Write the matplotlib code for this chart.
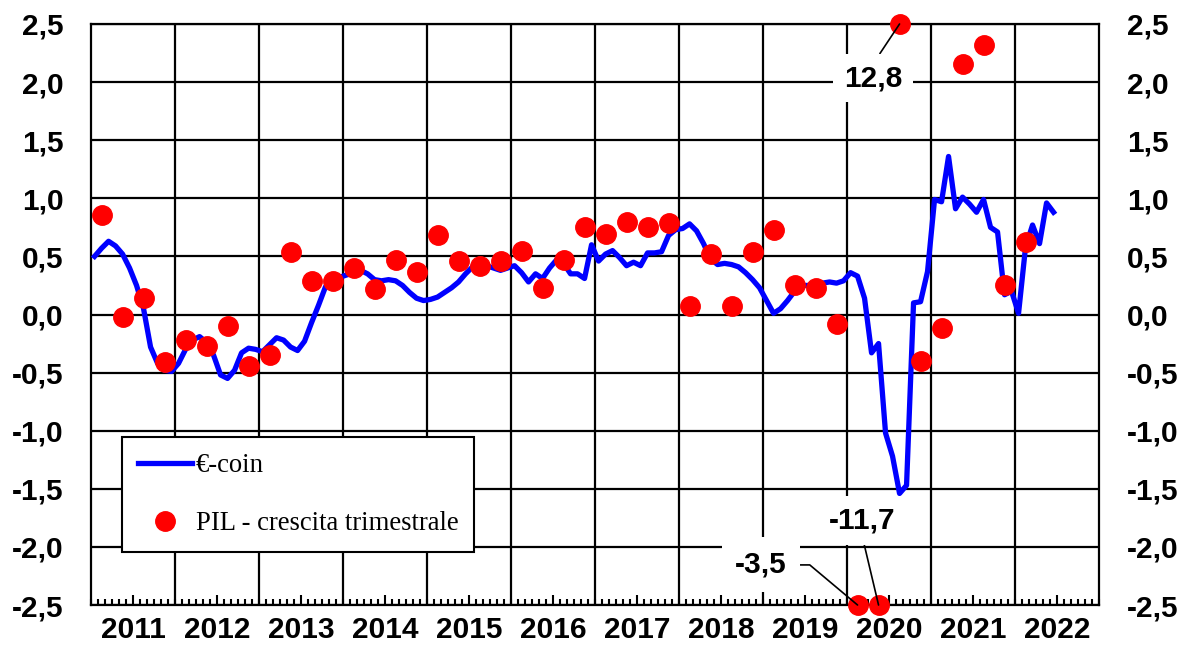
import numpy as np
import matplotlib.pyplot as plt
from matplotlib.ticker import FixedLocator, FuncFormatter, MultipleLocator

plt.rcParams['font.family'] = 'Liberation Sans'
plt.rcParams['font.weight'] = 'bold'

# €-coin, monthly, Jan 2011 - Jun 2022
ecoin = [0.50, 0.57, 0.63, 0.59, 0.52, 0.40, 0.25, 0.05, -0.28, -0.42, -0.48, -0.49,
         -0.42, -0.30, -0.22, -0.19, -0.24, -0.35, -0.52, -0.55, -0.48, -0.33, -0.29, -0.30,
         -0.32, -0.26, -0.20, -0.22, -0.28, -0.31, -0.23, -0.07, 0.08, 0.24, 0.29, 0.32,
         0.34, 0.36, 0.38, 0.35, 0.30, 0.29, 0.30, 0.29, 0.25, 0.19, 0.14, 0.12,
         0.13, 0.15, 0.19, 0.23, 0.28, 0.35, 0.41, 0.43, 0.42, 0.40, 0.38, 0.40,
         0.42, 0.36, 0.28, 0.35, 0.31, 0.40, 0.47, 0.44, 0.35, 0.35, 0.31, 0.60,
         0.46, 0.52, 0.55, 0.49, 0.42, 0.45, 0.42, 0.53, 0.53, 0.54, 0.68, 0.73,
         0.74, 0.78, 0.72, 0.61, 0.48, 0.43, 0.44, 0.43, 0.41, 0.36, 0.30, 0.23,
         0.12, 0.01, 0.05, 0.12, 0.20, 0.25, 0.25, 0.25, 0.27, 0.28, 0.27, 0.29,
         0.36, 0.33, 0.14, -0.33, -0.25, -1.02, -1.22, -1.54, -1.47, 0.10, 0.11, 0.37,
         0.99, 0.97, 1.36, 0.91, 1.01, 0.95, 0.88, 0.99, 0.75, 0.71, 0.17, 0.20,
         0.01, 0.58, 0.77, 0.61, 0.96, 0.88]

# PIL - crescita trimestrale, Q1 2011 - Q1 2022
pil = [0.86, -0.02, 0.14, -0.41,
       -0.22, -0.27, -0.10, -0.44,
       -0.35, 0.54, 0.29, 0.29,
       0.40, 0.22, 0.47, 0.37,
       0.68, 0.46, 0.42, 0.46,
       0.55, 0.23, 0.47, 0.75,
       0.69, 0.80, 0.75, 0.79,
       0.07, 0.52, 0.07, 0.54,
       0.73, 0.25, 0.23, -0.08,
       -3.5, -11.7, 12.8, -0.40,
       -0.12, 2.16, 2.32, 0.25,
       0.62]

years = list(range(2011, 2023))

x_m = np.arange(len(ecoin)) + 0.5
x_q = np.arange(len(pil)) * 3 + 1.5
pil_plot = np.clip(pil, -2.5, 2.5)

fig = plt.figure(figsize=(11.95, 6.45), dpi=100)
ax = fig.add_axes([0.0762, 0.062, 0.8435, 0.9008])

ax.plot(x_m, ecoin, color='#0000ff', lw=3.8, zorder=3, label='€-coin')
ax.plot(x_q, pil_plot, 'o', color='#ff0000', ms=14, zorder=4, clip_on=False,
        label='PIL - crescita trimestrale')

ax.set_xlim(0, 12 * len(years))
ax.set_ylim(-2.5, 2.5)

# year grid
for i in range(1, len(years)):
    ax.axvline(12 * i, color='k', lw=1.6, zorder=1)
ax.yaxis.set_major_locator(MultipleLocator(0.5))
ax.grid(axis='y', color='k', lw=1.6, zorder=1)
ax.set_axisbelow(True)
for s in ax.spines.values():
    s.set_linewidth(1.6)

ax.yaxis.set_major_formatter(FuncFormatter(lambda v, p: f"{v:.1f}".replace('.', ',')))
ax.tick_params(axis='y', length=0, pad=20, labelsize=21.5, labelright=True)

ax.xaxis.set_major_locator(FixedLocator([12 * i + 6 for i in range(len(years))]))
ax.set_xticklabels([str(y) for y in years])
ax.xaxis.set_minor_locator(FixedLocator(np.arange(0, 12 * len(years) + 1)))
ax.tick_params(axis='x', which='major', direction='in', length=7, width=1.5,
               pad=8, labelsize=21.5)
ax.tick_params(axis='x', which='minor', direction='in', length=4, width=1.5)

box = dict(boxstyle='square,pad=0.35', fc='white', ec='none')
ax.annotate('12,8', xy=(x_q[38], pil_plot[38]), xytext=(111.7, 2.035),
            ha='center', va='center', fontsize=21.5, fontweight='bold', bbox=box,
            arrowprops=dict(arrowstyle='-', color='k', lw=1.2, shrinkA=0, shrinkB=0,
                            relpos=(0.5, 1)),
            zorder=5, annotation_clip=False)
ax.annotate('-11,7', xy=(x_q[37], pil_plot[37]), xytext=(110.1, -1.77),
            ha='center', va='center', fontsize=21.5, fontweight='bold', bbox=box,
            arrowprops=dict(arrowstyle='-', color='k', lw=1.2, shrinkA=0, shrinkB=0,
                            relpos=(0.5, 0)),
            zorder=5, annotation_clip=False)
ax.annotate('-3,5', xy=(x_q[36], pil_plot[36]), xytext=(95.7, -2.155),
            ha='center', va='center', fontsize=21.5, fontweight='bold',
            bbox=dict(boxstyle='square,pad=0.45', fc='white', ec='none'),
            arrowprops=dict(arrowstyle='-', color='k', lw=1.2, shrinkA=0, shrinkB=0,
                            relpos=(1, 0.5),
                            connectionstyle='angle,angleA=0,angleB=-40,rad=0'),
            zorder=5, annotation_clip=False)

leg = ax.legend(loc='upper left', bbox_to_anchor=(0.031, 0.289), borderaxespad=0,
                fancybox=False, edgecolor='k', framealpha=1,
                prop={'family': 'Liberation Serif', 'size': 19.2, 'weight': 'normal'},
                handlelength=2, handletextpad=0.15, labelspacing=1.25, borderpad=0.6)
leg.get_frame().set_linewidth(1.5)
leg.set_zorder(6)

fig.savefig('out.png', dpi=100)
